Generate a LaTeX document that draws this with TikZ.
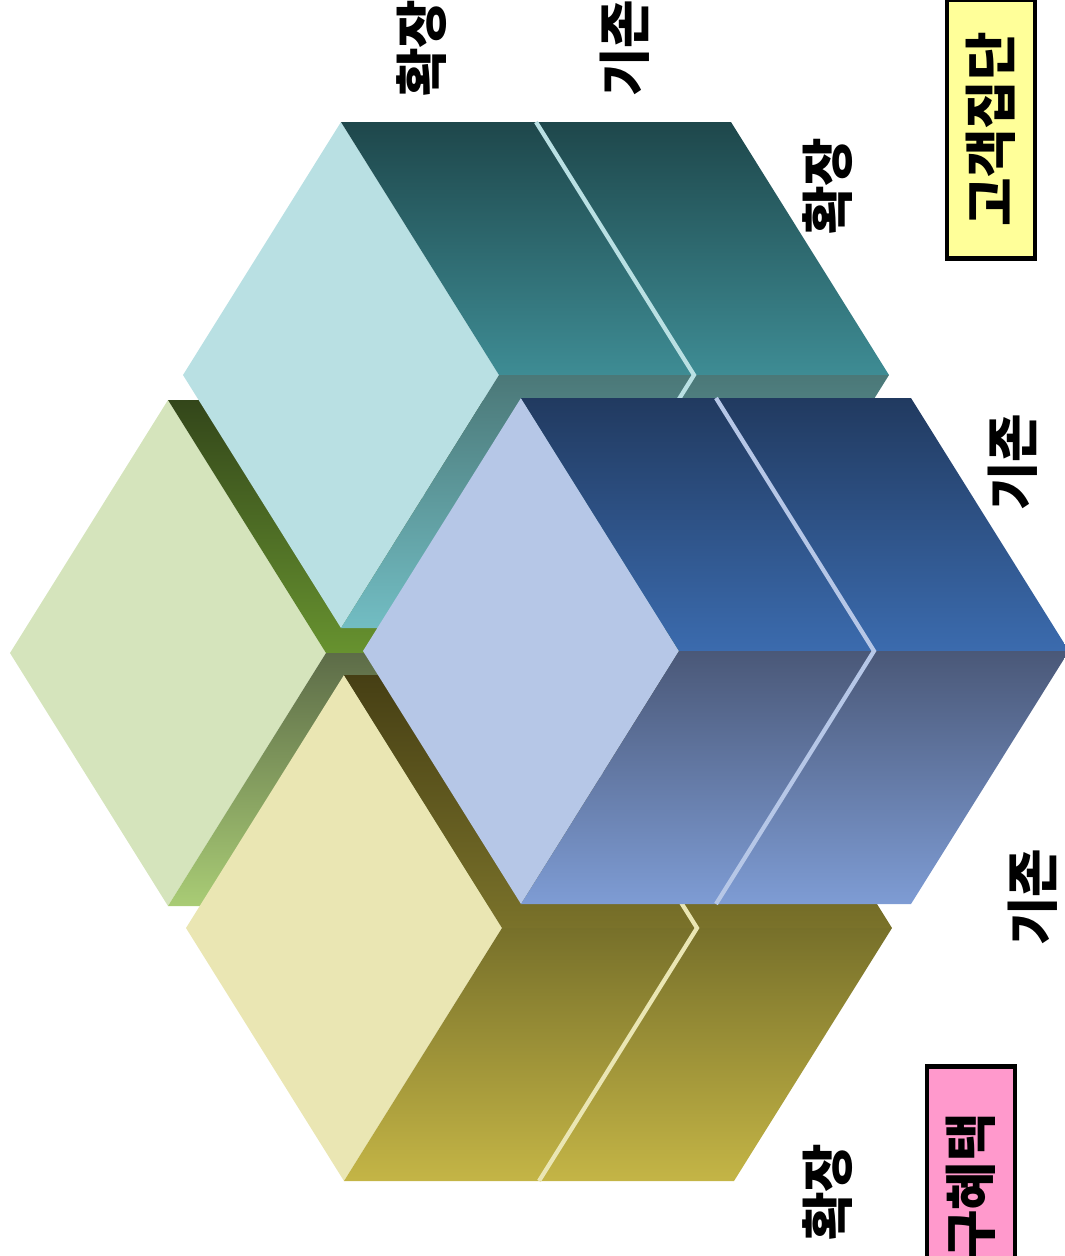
\documentclass[tikz,border=0pt]{standalone}
\usepackage{fontspec}
\newfontfamily\kr{Noto Sans CJK KR}
\definecolor{ltgrn}{RGB}{213,228,188}
\definecolor{tagrn}{RGB}{51,70,26}
\definecolor{tbgrn}{RGB}{103,146,47}
\definecolor{bagrn}{RGB}{93,108,72}
\definecolor{bbgrn}{RGB}{169,204,117}
\definecolor{lttea}{RGB}{185,224,227}
\definecolor{tatea}{RGB}{30,71,75}
\definecolor{tbtea}{RGB}{62,140,148}
\definecolor{batea}{RGB}{75,120,120}
\definecolor{bbtea}{RGB}{114,189,195}
\definecolor{ltolv}{RGB}{234,230,179}
\definecolor{taolv}{RGB}{70,63,20}
\definecolor{tbolv}{RGB}{122,114,42}
\definecolor{baolv}{RGB}{119,112,42}
\definecolor{bbolv}{RGB}{196,181,70}
\definecolor{ltblu}{RGB}{182,199,231}
\definecolor{tablu}{RGB}{33,58,96}
\definecolor{tbblu}{RGB}{59,107,174}
\definecolor{bablu}{RGB}{74,88,120}
\definecolor{bbblu}{RGB}{126,156,212}
\definecolor{boxyel}{RGB}{255,255,153}
\definecolor{boxpnk}{RGB}{255,153,204}
\tikzset{
  block line/.style={draw=#1,line width=1.2pt},
  axis label/.style={font=\kr\bfseries\fontsize{15}{18}\selectfont,rotate=90,inner sep=0pt},
  group box/.style={axis label,draw=black,line width=1.4pt,fill=#1,minimum width=2.58cm,minimum height=0.88cm}
}
\begin{document}
\begin{tikzpicture}[x=0.01cm,y=-0.01cm]
  \useasboundingbox (0,0) rectangle (1065,1256);
  \foreach \tx/\ty/\c in {168/400/grn,341/122/tea,344/675/olv,521/398/blu}{
    \fill[lt\c] (\tx-158,\ty+253)--(\tx,\ty)--(\tx+158,\ty+253)--(\tx,\ty+506)--cycle;
    \shade[top color=ta\c,bottom color=tb\c] (\tx,\ty)--(\tx+390,\ty)--(\tx+548,\ty+253)--(\tx+158,\ty+253)--cycle;
    \shade[top color=ba\c,bottom color=bb\c] (\tx+158,\ty+253)--(\tx+548,\ty+253)--(\tx+390,\ty+506)--(\tx,\ty+506)--cycle;
    \draw[block line=lt\c] (\tx+195,\ty)--(\tx+353,\ty+253)--(\tx+195,\ty+506);
  }
  \node[axis label] (colnew) at (422,48) {확장};
  \node[axis label] (colold) at (625,48) {기존};
  \node[axis label] (rownew) at (828,186) {확장};
  \node[axis label] (rowold) at (1013,462) {기존};
  \node[axis label] (depold) at (1033,897) {기존};
  \node[axis label] (depnew) at (828,1192) {확장};
  \node[group box=boxyel] (custgroup) at (991,129) {고객집단};
  \node[group box=boxpnk,minimum width=2.86cm] (benefit) at (971,1210) {추구혜택};
\end{tikzpicture}
\end{document}
